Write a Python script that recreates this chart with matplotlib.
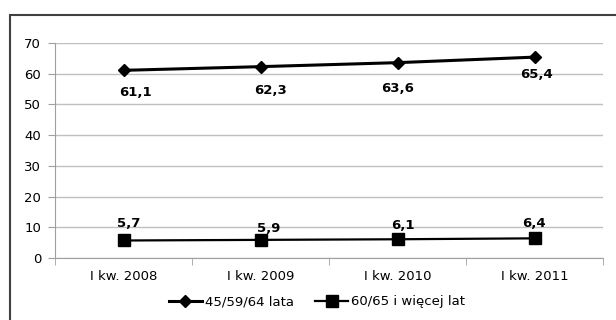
import matplotlib
matplotlib.use("Agg")
import matplotlib.pyplot as plt
from matplotlib.patches import Rectangle

plt.rcParams['font.family'] = ['DejaVu Sans']

categories = ["I kw. 2008", "I kw. 2009", "I kw. 2010", "I kw. 2011"]
series1_name = "45/59/64 lata"
series2_name = "60/65 i więcej lat"
series1 = [61.1, 62.3, 63.6, 65.4]
series2 = [5.7, 5.9, 6.1, 6.4]
yticks = [0, 10, 20, 30, 40, 50, 60, 70]

# label offsets in pixels (dx, dy)
off1 = [(12, -22), (10, -24), (0, -26), (2, -17)]
off2 = [(5, 17), (8, 11), (5, 14), (-1, 15)]

fig = plt.figure(figsize=(6.16, 3.2), dpi=100)
ax = fig.add_axes([55/616, 1-258/320, 548/616, 215/320])

x = list(range(len(categories)))
ax.plot(x, series1, color='black', lw=2.2, marker='D', markersize=6.5, label=series1_name, zorder=3)
ax.plot(x, series2, color='black', lw=1.6, marker='s', markersize=9, label=series2_name, zorder=3)

def fmt(v):
    return f"{v:.1f}".replace('.', ',')

for xi, v, (dx, dy) in zip(x, series1, off1):
    ax.annotate(fmt(v), (xi, v), xytext=(dx, dy), textcoords='offset pixels',
                ha='center', va='center', fontsize=9.5, fontweight='bold')
for xi, v, (dx, dy) in zip(x, series2, off2):
    ax.annotate(fmt(v), (xi, v), xytext=(dx, dy), textcoords='offset pixels',
                ha='center', va='center', fontsize=9.5, fontweight='bold')

ax.set_xlim(-0.5, len(categories) - 0.5)
ax.set_ylim(0, 70)
ax.set_yticks(yticks)
ax.set_xticks(x)
ax.set_xticklabels(categories)
ax.set_xticks([i + 0.5 for i in range(-1, len(categories))], minor=True)
ax.tick_params(axis='x', which='major', length=0, labelsize=9.5, pad=9)
ax.tick_params(axis='x', which='minor', length=5, color='#a0a0a0', direction='out')
ax.tick_params(axis='y', length=5, color='#a0a0a0', labelsize=9.5, pad=5)
ax.grid(axis='y', color='#c0c0c0', lw=1)
ax.set_axisbelow(True)
for s in ['top', 'right']:
    ax.spines[s].set_visible(False)
for s in ['left', 'bottom']:
    ax.spines[s].set_color('#a0a0a0')

fig.legend(*ax.get_legend_handles_labels(), loc='center', bbox_to_anchor=(317/616, 1-302/320),
           ncol=2, frameon=False, fontsize=9.5, handlelength=2.5, columnspacing=1.6,
           handletextpad=0.25, borderaxespad=0, borderpad=0)

fig.patches.append(Rectangle((10/616, -0.1), 1.0, 1-15/320+0.1, transform=fig.transFigure,
                             fill=False, edgecolor='#404040', lw=1.5, clip_on=False))

fig.savefig("out.png", dpi=100)
